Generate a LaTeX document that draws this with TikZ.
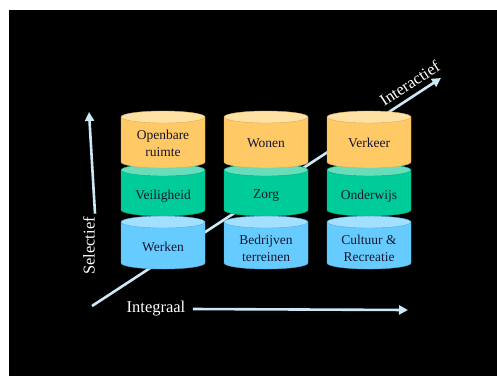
\documentclass[tikz,border=0pt]{standalone}
\usepackage{fontspec}
\setmainfont{Liberation Serif}
\usepackage{xcolor}
\usepackage{tikz}
\usetikzlibrary{arrows.meta,positioning}

\definecolor{orangebody}{HTML}{FFC965}
\definecolor{orangelid}{HTML}{FFE2A3}
\definecolor{greenbody}{HTML}{00CC99}
\definecolor{greenlid}{HTML}{66DDBB}
\definecolor{bluebody}{HTML}{66CCFF}
\definecolor{bluelid}{HTML}{A3DFFF}
\definecolor{axisblue}{HTML}{CDE9F6}
\definecolor{labeldark}{HTML}{161630}

\begin{document}
\begin{tikzpicture}[
    x=1pt,y=1pt,
    lbl/.style={text=labeldark,align=center,font=\fontsize{13.5}{17}\selectfont},
    axlbl/.style={text=white,font=\fontsize{16.5}{19}\selectfont},
    axis/.style={draw=axisblue,line width=2.6pt,-{Triangle[length=9pt,width=9pt]}}
  ]
    \useasboundingbox (0,0) rectangle (497,376);
    \fill[white] (0,0) rectangle (497,376);
    \fill[black] (9,0) rectangle (497,366);

    % diagonal axis, behind the drums
    \coordinate (diag0) at (92,70);
    \coordinate (diag1) at (441,298);
    \draw[axis] (diag0) -- node[axlbl,pos=0.93,sloped,above=2pt] (inter) {Interactief} (diag1);

    % drums: blue, green, orange per column
    \foreach \cx in {163,266,369}{
      \foreach \ytop/\ybot/\body/\lid in {154/113/bluebody/bluelid,206/166/greenbody/greenlid,259/214/orangebody/orangelid}{
        \filldraw[fill=\body,draw=\body!85!black,line width=0.4pt]
          ({\cx-42},\ytop) -- ({\cx-42},\ybot) arc[start angle=180,end angle=360,x radius=42,y radius=6] -- ({\cx+42},\ytop) -- cycle;
        \filldraw[fill=\lid,draw=\body!85!black,line width=0.4pt] (\cx,\ytop) ellipse[x radius=42,y radius=6];
      }
    }

    \node[lbl] (ruimte) at (163,233) {Openbare\\ruimte};
    \node[lbl] (wonen) at (266,233) {Wonen};
    \node[lbl] (verkeer) at (369,233) {Verkeer};
    \node[lbl] (veilig) at (163,180) {Veiligheid};
    \node[lbl] (zorg) at (266,180) {Zorg};
    \node[lbl] (onderwijs) at (369,180) {Onderwijs};
    \node[lbl] (werken) at (163,129) {Werken};
    \node[lbl] (bedrijf) at (266,128) {Bedrijven\\terreinen};
    \node[lbl] (cultuur) at (369,128) {Cultuur \&\\Recreatie};

    % vertical and horizontal axes
    \node[axlbl,rotate=90] (selec) at (89,130) {Selectief};
    \coordinate (seltop) at (89,264);
    \draw[axis] ([xshift=6pt]selec.east) -- (seltop);

    \node[axlbl] (integ) at (156,67) {Integraal};
    \coordinate (intend) at (408,66);
    \draw[axis] ([xshift=4pt]integ.east) -- (intend);
  \end{tikzpicture}
\end{document}
